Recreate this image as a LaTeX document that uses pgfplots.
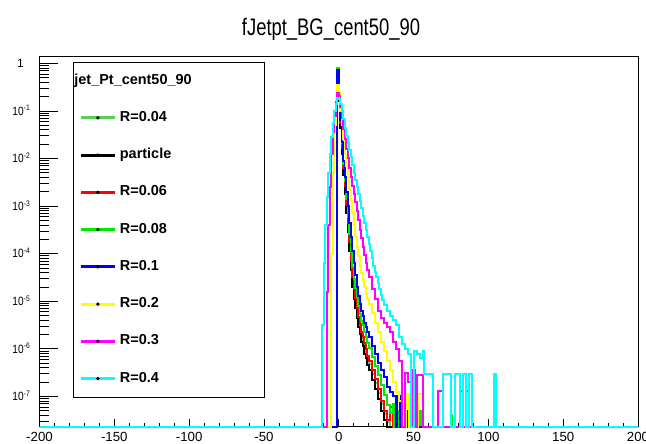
\documentclass[border=0pt]{standalone}
\usepackage{pgfplots}
\pgfplotsset{compat=1.18}
\usepackage{fontspec}
\setmainfont{Liberation Sans}
\definecolor{lgreen}{RGB}{95,205,85}
\definecolor{rgreen}{RGB}{0,235,0}
\definecolor{ryellow}{RGB}{255,255,0}
\definecolor{rmag}{RGB}{255,0,255}
\definecolor{rcyan}{RGB}{0,255,255}
\definecolor{rblue}{RGB}{0,0,255}
\definecolor{rred}{RGB}{255,0,0}
\newcommand{\yl}[1]{\scalebox{0.85}[1]{10\rlap{\textsuperscript{#1}}}}
\begin{document}
\begin{tikzpicture}
\useasboundingbox (0,0) rectangle (646bp,444bp);
\node[anchor=base, inner sep=0pt] at (331bp,408bp) {\scalebox{0.77}[1]{\fontsize{24}{24}\selectfont fJetpt\_BG\_cent50\_90}};
% x ticks axis
\begin{axis}[
  at={(39.5bp,17.3bp)}, anchor=south west,
  scale only axis, width=598.5bp, height=370.7bp,
  xmin=-200, xmax=200, ymin=0, ymax=1,
  axis line style={line width=0.8bp},
  ytick=\empty,
  xtick={-200,-150,-100,-50,0,50,100,150,200},
  xticklabels={-200,-150,-100,-50,0,50,100,150,200},
  minor x tick num=4,
  xtick pos=left, tick align=inside,
  major tick length=8bp, minor tick length=4bp,
  tick style={line width=0.7bp, black},
  xticklabel style={anchor=base, inner sep=0pt, yshift=-14.6bp, font=\fontsize{13.3}{13.3}\selectfont},
]
\end{axis}
\begin{axis}[
  at={(39.5bp,17.3bp)}, anchor=south west,
  scale only axis, width=598.5bp, height=370.7bp,
  xmin=-200, xmax=200, ymode=log, ymin=2.3e-8, ymax=1.425,
  clip=false,
  axis line style={line width=0.8bp},
  xtick=\empty,
  ytick={1e-7,1e-6,1e-5,1e-4,1e-3,1e-2,1e-1,1},
  yticklabels={\yl{-7},\yl{-6},\yl{-5},\yl{-4},\yl{-3},\yl{-2},\yl{-1},1},
  minor ytick={3e-8,4e-8,5e-8,6e-8,7e-8,8e-8,9e-8,
    2e-7,3e-7,4e-7,5e-7,6e-7,7e-7,8e-7,9e-7,
    2e-6,3e-6,4e-6,5e-6,6e-6,7e-6,8e-6,9e-6,
    2e-5,3e-5,4e-5,5e-5,6e-5,7e-5,8e-5,9e-5,
    2e-4,3e-4,4e-4,5e-4,6e-4,7e-4,8e-4,9e-4,
    2e-3,3e-3,4e-3,5e-3,6e-3,7e-3,8e-3,9e-3,
    2e-2,3e-2,4e-2,5e-2,6e-2,7e-2,8e-2,9e-2,
    0.2,0.3,0.4,0.5,0.6,0.7,0.8,0.9},
  ytick pos=left, tick align=inside,
  major tick length=18bp, minor tick length=9bp,
  tick style={line width=0.7bp, black},
  yticklabel style={anchor=base east, inner sep=0pt, xshift=-15.5bp, yshift=-4.3bp, font=\fontsize{12}{12}\selectfont},
  legend style={
    at={(axis description cs:0.0555,0.9846)}, anchor=north west,
    draw=black, line width=0.8bp, fill=white,
    inner xsep=6.3bp, inner ysep=11.5bp,
    row sep=23.25bp, column sep=3.5bp,
    font=\fontsize{14.5}{16}\selectfont\bfseries,
    nodes={inner sep=0pt, text height=10.5bp, text depth=3.5bp, text width=138.2bp, align=left},
  },
  legend cell align=left,
  legend image code/.code={\draw[#1, line width=3bp] (0bp,0bp) -- (34bp,0bp); \fill[black] (17bp,0bp) circle (0.45bp);},
  h/.style={const plot, line width=2bp},
]
\addlegendimage{empty legend}
\addlegendentry{\hspace*{-45.5bp}jet\_Pt\_cent50\_90}

% R=0.04
\addplot[h, lgreen] coordinates {(-200,2.3e-8) (-1,0.8) (0,0.17) (1,0.05) (2,0.0145) (3,0.0052) (4,0.0021) (5,8.5e-4) (6,3.4e-4) (7,1.4e-4) (8,5.6e-5) (9,2.6e-5) (10,1.45e-5) (11,9.0e-6) (12,5.8e-6) (13,3.7e-6) (14,2.6e-6) (15,1.85e-6) (16,1.45e-6) (17,1.05e-6) (18,8.2e-7) (19,6.0e-7) (20,4.7e-7) (22,3.0e-7) (24,1.9e-7) (26,1.2e-7) (28,6.8e-8) (30,4.3e-8) (32,2.9e-8) (34,2.3e-8) (200,2.3e-8)};
\addlegendentry{R=0.04}
% particle
\addplot[h, black] coordinates {(-200,2.3e-8) (-1,0.76) (0,0.158) (1,0.0447) (2,0.0126) (3,0.00447) (4,0.00178) (5,7.08e-4) (6,2.82e-4) (7,1.12e-4) (8,4.47e-5) (9,2.0e-5) (10,1.12e-5) (11,7.08e-6) (12,4.47e-6) (13,2.82e-6) (14,2.0e-6) (15,1.41e-6) (16,1.12e-6) (17,7.94e-7) (18,6.31e-7) (19,4.47e-7) (20,3.55e-7) (22,2.24e-7) (24,1.41e-7) (26,8.91e-8) (28,5.01e-8) (30,3.16e-8) (32,2.3e-8) (200,2.3e-8)};
\addlegendentry{particle}
% R=0.06
\addplot[h, rred] coordinates {(-200,2.3e-8) (-1,0.8) (0,0.19) (1,0.055) (2,0.017) (3,0.0062) (4,0.0026) (5,0.00105) (6,4.3e-4) (7,1.75e-4) (8,7.1e-5) (9,3.3e-5) (10,1.8e-5) (11,1.15e-5) (12,7.2e-6) (13,4.6e-6) (14,3.3e-6) (15,2.3e-6) (16,1.8e-6) (17,1.3e-6) (18,1.0e-6) (19,7.2e-7) (20,5.6e-7) (22,3.6e-7) (24,2.3e-7) (26,1.4e-7) (28,8.0e-8) (30,5.0e-8) (32,3.2e-8) (34,6.0e-8) (36,2.3e-8) (38,8.0e-8) (39,2.3e-8) (200,2.3e-8)};
\addlegendentry{R=0.06}
% R=0.08
\addplot[h, rgreen] coordinates {(-200,2.3e-8) (-1,0.78) (0,0.21) (1,0.065) (2,0.021) (3,0.0078) (4,0.0034) (5,0.0014) (6,6.0e-4) (7,2.6e-4) (8,1.1e-4) (9,5.2e-5) (10,2.9e-5) (11,1.85e-5) (12,1.2e-5) (13,7.8e-6) (14,5.5e-6) (15,3.9e-6) (16,3.1e-6) (17,2.3e-6) (18,1.8e-6) (19,1.35e-6) (20,1.05e-6) (22,6.8e-7) (24,4.4e-7) (26,2.8e-7) (28,1.7e-7) (30,1.05e-7) (32,6.5e-8) (34,4.5e-8) (36,7.0e-8) (37,2.3e-8) (39,5.0e-8) (40,2.3e-8) (54,5.0e-8) (55,2.3e-8) (75,4.0e-8) (76,2.3e-8) (200,2.3e-8)};
\addlegendentry{R=0.08}
% R=0.1
\addplot[h, rblue] coordinates {(-200,2.3e-8) (-1,0.71) (0,0.178) (1,0.063) (2,0.0224) (3,0.0089) (4,0.004) (5,0.002) (6,0.001) (7,4.47e-4) (8,2.24e-4) (9,1.12e-4) (10,6.3e-5) (11,3.55e-5) (12,2.0e-5) (13,1.26e-5) (14,8.9e-6) (15,6.3e-6) (16,4.8e-6) (17,3.55e-6) (18,2.8e-6) (19,2.24e-6) (20,1.78e-6) (22,1.12e-6) (24,7.9e-7) (26,5.0e-7) (28,3.55e-7) (30,2.5e-7) (32,1.6e-7) (34,1.26e-7) (36,1.0e-7) (38,2.3e-8) (39,1.0e-7) (41,2.3e-8) (44,5.0e-8) (46,2.3e-8) (200,2.3e-8)};
\addlegendentry{R=0.1}
% R=0.2
\addplot[h, ryellow] coordinates {(-200,2.3e-8) (-5,1.0e-4) (-4,5.0e-3) (-3,0.05) (-2,0.178) (-1,0.355) (0,0.251) (1,0.1) (2,0.05) (3,0.0251) (4,0.0126) (5,0.0071) (6,0.004) (7,0.00224) (8,0.00126) (9,7.1e-4) (10,4.0e-4) (11,2.24e-4) (12,1.41e-4) (13,8.9e-5) (14,5.6e-5) (15,4.0e-5) (16,2.8e-5) (17,2.0e-5) (18,1.41e-5) (19,1.12e-5) (20,8.9e-6) (22,5.6e-6) (24,3.55e-6) (26,2.24e-6) (28,1.41e-6) (30,8.9e-7) (32,5.6e-7) (34,3.55e-7) (36,2.0e-7) (38,1.26e-7) (40,8.0e-8) (42,2.3e-8) (45,1.1e-7) (47,2.3e-8) (49,6.3e-8) (51,2.3e-8) (53,1.1e-7) (56,2.3e-8) (200,2.3e-8)};
\addlegendentry{R=0.2}
% R=0.3
\addplot[h, rmag] coordinates {(-200,2.3e-8) (-8,1.58e-5) (-7,4.0e-4) (-6,2.5e-3) (-5,0.0126) (-4,0.0355) (-3,0.079) (-2,0.151) (-1,0.24) (0,0.209) (1,0.12) (2,0.0708) (3,0.0417) (4,0.0251) (5,0.0158) (6,0.01) (7,0.0063) (8,0.004) (9,0.00263) (10,0.00178) (11,0.0012) (12,7.9e-4) (13,5.0e-4) (14,3.16e-4) (15,2.1e-4) (16,1.41e-4) (17,9.5e-5) (18,6.3e-5) (19,4.47e-5) (20,3.16e-5) (22,1.78e-5) (24,1.12e-5) (26,6.3e-6) (28,4.47e-6) (30,3.55e-6) (32,2.82e-6) (34,2.24e-6) (36,1.41e-6) (38,1.0e-6) (40,5.6e-7) (42,2.3e-8) (44,3.16e-7) (46,2.0e-7) (48,2.3e-8) (49,3.55e-7) (51,2.3e-8) (52,2.8e-7) (56,2.3e-8) (66,1.32e-7) (70,2.3e-8) (81,1.32e-7) (83,2.3e-8) (85,1.32e-7) (87,2.3e-8) (200,2.3e-8)};
\addlegendentry{R=0.3}
% R=0.4
\addplot[h, rcyan] coordinates {(-200,2.3e-8) (-11,3.16e-6) (-10,6.3e-5) (-9,4.0e-4) (-8,1.58e-3) (-7,5.0e-3) (-6,0.0126) (-5,0.0282) (-4,0.0562) (-3,0.1) (-2,0.141) (-1,0.186) (0,0.178) (1,0.141) (2,0.1) (3,0.066) (4,0.0447) (5,0.0302) (6,0.0209) (7,0.0148) (8,0.0105) (9,0.0074) (10,0.005) (11,0.00355) (12,0.00251) (13,0.00178) (14,0.00126) (15,8.9e-4) (16,6.3e-4) (17,4.47e-4) (18,3.16e-4) (19,2.24e-4) (20,1.58e-4) (21,1.12e-4) (22,7.9e-5) (23,5.6e-5) (24,4.17e-5) (25,3.16e-5) (26,2.4e-5) (27,1.78e-5) (28,1.35e-5) (29,1.07e-5) (30,8.5e-6) (32,6.3e-6) (34,5.0e-6) (36,4.0e-6) (38,3.16e-6) (40,1.78e-6) (42,1.26e-6) (44,1.0e-6) (46,7.9e-7) (48,2.3e-8) (50,8.9e-7) (52,7.9e-7) (54,6.3e-7) (56,8.9e-7) (57,2.95e-7) (63,2.3e-8) (70,2.95e-7) (75,2.3e-8) (78,2.95e-7) (81,2.3e-8) (83,2.95e-7) (85,2.3e-8) (87,2.95e-7) (89,2.3e-8) (104,2.95e-7) (105,2.3e-8) (200,2.3e-8)};
\addlegendentry{R=0.4}
\end{axis}
\end{tikzpicture}
\end{document}
